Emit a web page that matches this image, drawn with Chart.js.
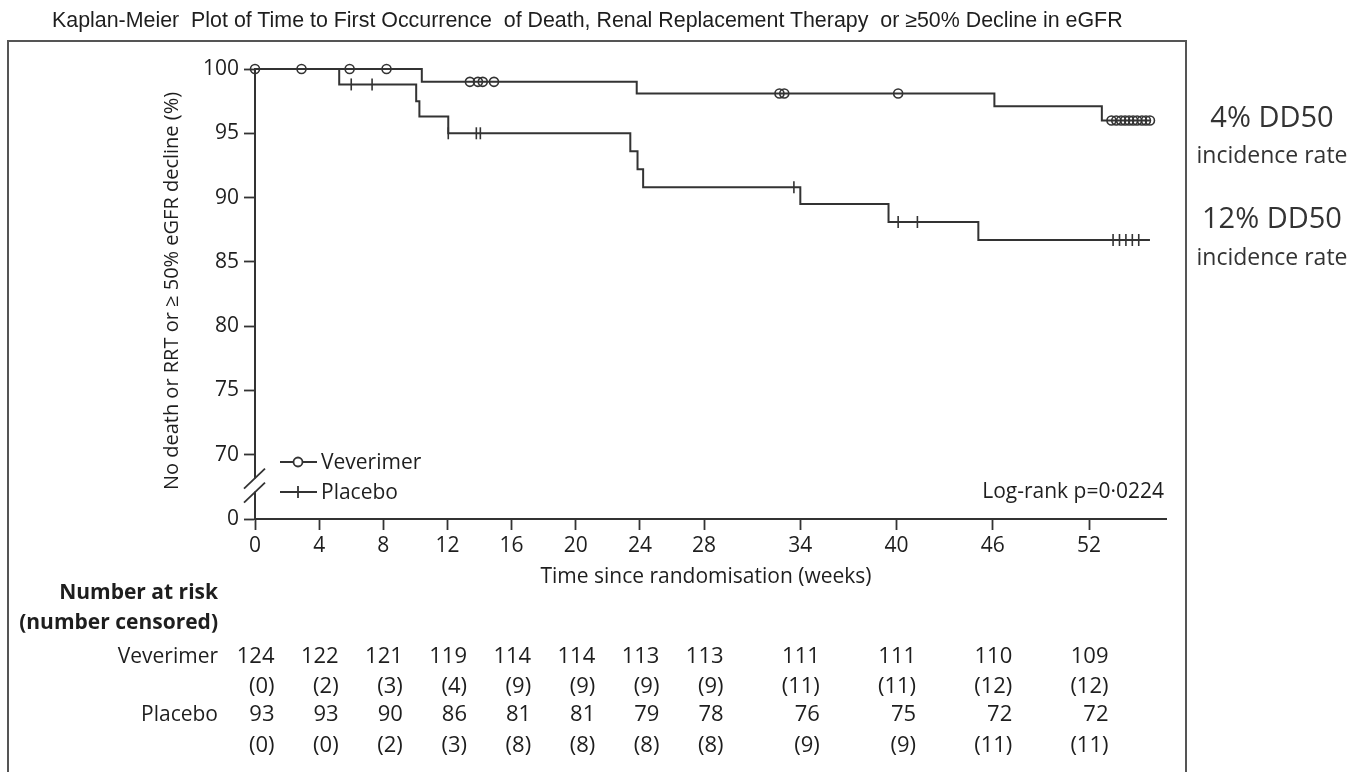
<!DOCTYPE html>
<html>
<head>
<meta charset="utf-8">
<title>Kaplan-Meier: death, RRT or 50% eGFR decline</title>
<script src="https://cdn.jsdelivr.net/npm/chart.js@4.4.0/dist/chart.umd.min.js"></script>
<style>
  html, body { margin: 0; padding: 0; background: #fff; }
  #page { position: relative; width: 1357px; height: 772px; overflow: hidden; }
  #chart { position: absolute; left: 0; top: 0; }
  #title { position: absolute; left: 52px; top: 8px; white-space: pre; font: 21.4px "Liberation Sans", Arial, sans-serif; color: #1e1e1e; }
  #frame { position: absolute; left: 7px; top: 40px; width: 1176px; height: 800px; border: 2px solid #555; }
  .big, .small { position: absolute; left: 1187px; width: 170px; text-align: center; font-family: "Open Sans", sans-serif; color: #333; white-space: nowrap; }
  .big { font-size: 29px; line-height: 30px; }
  .small { font-size: 23px; line-height: 24px; }
</style>
</head>
<body>
<div id="page">
  <div id="frame"></div>
  <canvas id="chart" width="1357" height="772"></canvas>
  <div id="title">Kaplan-Meier  Plot of Time to First Occurrence  of Death, Renal Replacement Therapy  or ≥50% Decline in eGFR</div>
  <div class="big" style="top:101px">4% DD50</div>
  <div class="small" style="top:142px">incidence rate</div>
  <div class="big" style="top:202px">12% DD50</div>
  <div class="small" style="top:244px">incidence rate</div>
</div>
<script>
// Kaplan-Meier steps (weeks, % event free)
const vevTimes = [0, 10.4, 23.8, 46.1, 52.8, 55.8];
const vevSurv  = [100, 99.0, 98.1, 97.1, 96.0, 96.0];
const vevCensored = [0, 2.9, 5.9, 8.2, 13.4, 13.9, 14.2, 14.9, 32.7, 33.0, 40.1,
                     53.4, 53.7, 54.0, 54.25, 54.5, 54.75, 55.0, 55.3, 55.55, 55.8];

const plaTimes = [0, 5.25, 10.05, 10.25, 12.05, 23.4, 23.85, 24.2, 34.0, 39.5, 45.1, 55.8];
const plaSurv  = [100, 98.8, 97.5, 96.3, 95.0, 93.6, 92.2, 90.8, 89.5, 88.1, 86.7, 86.7];
const plaCensored = [6.0, 7.3, 12.05, 13.8, 14.05, 33.6, 40.1, 41.3, 53.5, 53.9, 54.3, 54.7, 55.1];

// axes
const xTicks = [0, 4, 8, 12, 16, 20, 24, 28, 34, 40, 46, 52];
const yTicks = [0, 70, 75, 80, 85, 90, 95, 100];
const yBreakPos = 65; // the "0" sits here, below the axis break

// number at risk table
const riskWeeks   = [0, 4, 8, 12, 16, 20, 24, 28, 34, 40, 46, 52];
const vevAtRisk   = [124, 122, 121, 119, 114, 114, 113, 113, 111, 111, 110, 109];
const vevCens     = [0, 2, 3, 4, 9, 9, 9, 9, 11, 11, 12, 12];
const plaAtRisk   = [93, 93, 90, 86, 81, 81, 79, 78, 76, 75, 72, 72];
const plaCens     = [0, 0, 2, 3, 8, 8, 8, 8, 9, 9, 11, 11];

const ink = '#333';
const txt = '#1e1e1e';
const FAM = '"Open Sans", sans-serif';

function survAt(times, surv, t) {
  let s = surv[0];
  for (let i = 0; i < times.length; i++) if (times[i] <= t) s = surv[i];
  return s;
}
const pts = (times, surv) => times.map((t, i) => ({x: t, y: surv[i]}));
const censPts = (cens, times, surv) => cens.map(t => ({x: t, y: survAt(times, surv, t)}));

const vevCircle = {pointStyle: 'circle', radius: 4.5, borderWidth: 1.6, rotation: 0};
const plaTick = {pointStyle: 'line', radius: 6, borderWidth: 1.6, rotation: 90};

const extras = {
  id: 'extras',
  afterDraw(chart) {
    const {ctx, chartArea: a, scales: {x, y}} = chart;
    ctx.save();

    // axis break marks
    const yb = y.getPixelForValue(67.6);
    ctx.fillStyle = '#fff';
    ctx.fillRect(a.left - 3, yb - 7, 6, 13);
    ctx.strokeStyle = ink;
    ctx.lineWidth = 1.8;
    [-7, 7].forEach(d => {
      ctx.beginPath();
      ctx.moveTo(a.left - 11, yb + d + 10);
      ctx.lineTo(a.left + 10, yb + d - 10);
      ctx.stroke();
    });

    ctx.fillStyle = txt;
    ctx.textBaseline = 'middle';

    // y title
    ctx.save();
    ctx.translate(172, 291);
    ctx.rotate(-Math.PI / 2);
    ctx.textAlign = 'center';
    ctx.font = '20px ' + FAM;
    ctx.fillText('No death or RRT or ≥ 50% eGFR decline (%)', 0, 0);
    ctx.restore();

    // x title
    ctx.textAlign = 'center';
    ctx.font = '21px ' + FAM;
    ctx.fillText('Time since randomisation (weeks)', 706, 577);

    // legend
    const legend = [['Veverimer', vevCircle, 462], ['Placebo', plaTick, 492]];
    legend.forEach(([label, style, ly]) => {
      ctx.strokeStyle = ink;
      ctx.lineWidth = 1.8;
      ctx.beginPath();
      ctx.moveTo(280, ly);
      ctx.lineTo(317, ly);
      ctx.stroke();
      ctx.fillStyle = '#fff';
      Chart.helpers.drawPoint(ctx, style, 298, ly);
      ctx.fillStyle = txt;
      ctx.textAlign = 'left';
      ctx.font = '21px ' + FAM;
      ctx.fillText(label, 321, ly + 1);
    });

    // log-rank
    ctx.textAlign = 'right';
    ctx.font = '21px ' + FAM;
    ctx.fillText('Log-rank p=0·0224', 1164, 492);

    // number at risk
    ctx.font = 'bold 21px ' + FAM;
    ctx.fillText('Number at risk', 218, 593);
    ctx.fillText('(number censored)', 218, 623);
    ctx.font = '21px ' + FAM;
    ctx.fillText('Veverimer', 218, 657);
    ctx.fillText('Placebo', 218, 715);
    ctx.font = '22px ' + FAM;
    riskWeeks.forEach((w, i) => {
      const rx = x.getPixelForValue(w) + 19.5;
      ctx.fillText(String(vevAtRisk[i]), rx, 657);
      ctx.fillText('(' + vevCens[i] + ')', rx, 687);
      ctx.fillText(String(plaAtRisk[i]), rx, 715);
      ctx.fillText('(' + plaCens[i] + ')', rx, 746);
    });
    ctx.restore();
  }
};

new Chart(document.getElementById('chart'), {
  type: 'line',
  data: {
    datasets: [
      {
        label: 'Veverimer',
        data: pts(vevTimes, vevSurv),
        stepped: true, borderColor: ink, borderWidth: 2,
        pointRadius: 0, fill: false, clip: false
      },
      {
        label: 'Placebo',
        data: pts(plaTimes, plaSurv),
        stepped: true, borderColor: ink, borderWidth: 2,
        pointRadius: 0, fill: false, clip: false
      },
      {
        type: 'scatter',
        label: 'Veverimer censored',
        data: censPts(vevCensored, vevTimes, vevSurv),
        pointStyle: 'circle', pointRadius: 4.5, pointBorderWidth: 1.6,
        pointBorderColor: ink, pointBackgroundColor: 'rgba(255,255,255,0)',
        showLine: false, clip: false
      },
      {
        type: 'scatter',
        label: 'Placebo censored',
        data: censPts(plaCensored, plaTimes, plaSurv),
        pointStyle: 'line', pointRotation: 90, pointRadius: 6, pointBorderWidth: 1.6,
        pointBorderColor: ink, showLine: false, clip: false
      }
    ]
  },
  options: {
    responsive: false,
    animation: false,
    events: [],
    layout: { padding: { left: 0, right: 191, top: 69, bottom: 213 } },
    plugins: { legend: { display: false }, tooltip: { enabled: false } },
    scales: {
      x: {
        type: 'linear', min: 0, max: 56.8,
        afterBuildTicks: s => { s.ticks = xTicks.map(v => ({value: v})); },
        afterFit: s => { s.height = 40; },
        grid: { drawOnChartArea: false, drawTicks: true, tickLength: 11, tickWidth: 1.8, tickColor: ink },
        border: { display: true, color: ink, width: 2 },
        ticks: { color: txt, padding: 3, maxRotation: 0, autoSkip: false, font: { family: FAM, size: 21 } }
      },
      y: {
        type: 'linear', min: yBreakPos, max: 100,
        afterBuildTicks: s => { s.ticks = yTicks.map(v => ({value: v === 0 ? yBreakPos : v})); },
        afterFit: s => { s.width = 255; },
        grid: { drawOnChartArea: false, drawTicks: true, tickLength: 11, tickWidth: 1.8, tickColor: ink },
        border: { display: true, color: ink, width: 2 },
        ticks: {
          color: txt, padding: 5, autoSkip: false, font: { family: FAM, size: 21 },
          callback: v => String(v === yBreakPos ? 0 : v)
        }
      }
    }
  },
  plugins: [extras]
});
</script>
</body>
</html>
